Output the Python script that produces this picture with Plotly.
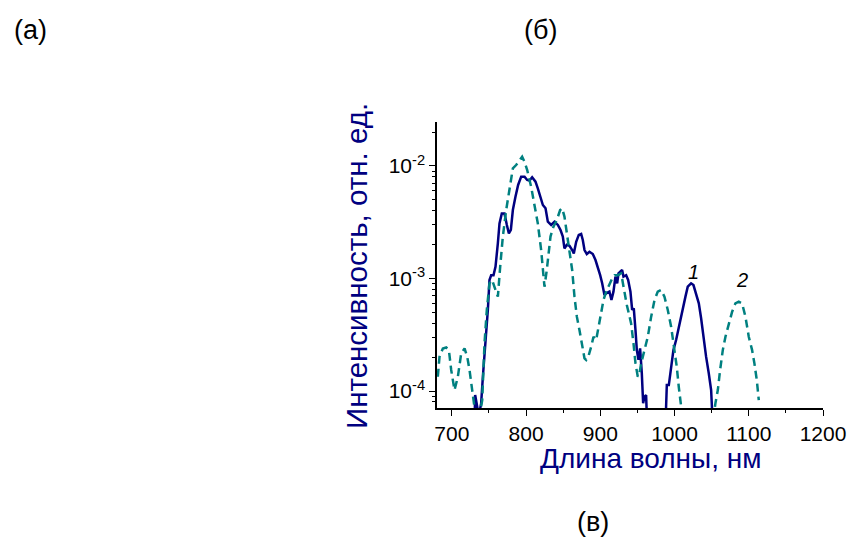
import plotly.graph_objects as go

# Curve 1 (solid)
wl1 = [730.5, 731.4, 736.4, 739.5, 741.8, 746.2, 748.5, 750.7, 753.0, 756.1, 758.8, 762.0, 764.2, 767.3,
       770.9, 774.1, 776.8, 779.5, 782.2, 785.7, 789.3, 793.4, 797.9, 801.5, 804.6, 808.2, 812.7, 815.8,
       819.0, 822.6, 826.2, 829.3, 833.8, 838.3, 842.8, 846.4, 849.5, 851.7, 854.9, 858.5, 862.1, 864.3,
       867.5, 871.0, 874.2, 876.4, 878.7, 881.8, 885.4, 889.9, 893.5, 896.6, 899.8, 902.5, 905.6, 907.9,
       912.3, 915.0, 917.7, 920.4, 922.7, 924.5, 926.7, 929.4, 931.2, 934.8, 937.5, 940.6, 942.9, 945.1,
       947.4, 949.2, 951.4, 953.6, 955.9, 957.7, 959.5, 961.7, 963.1,
       975.0,
       987.8, 989.6, 992.3, 995.4, 998.5, 1002.1, 1006.6, 1011.1, 1014.7, 1017.8, 1022.3, 1025.5, 1029.1,
       1032.7, 1035.8, 1039.0, 1042.5, 1046.1, 1049.3, 1051.5]
int1 = [5e-5, 9.2e-5, 6.0e-5, 7.8e-5, 1.34e-4, 3.04e-4, 5.25e-4, 9.7e-4, 1.07e-3, 1.07e-3, 1.27e-3, 2.06e-3,
        3.09e-3, 3.79e-3, 3.79e-3, 2.99e-3, 2.52e-3, 2.70e-3, 4.06e-3, 5.34e-3, 6.78e-3, 8.04e-3, 8.04e-3,
        7.51e-3, 7.41e-3, 7.93e-3, 7.26e-3, 6.33e-3, 5.34e-3, 4.50e-3, 4.21e-3, 3.20e-3, 2.99e-3, 3.20e-3,
        2.99e-3, 2.70e-3, 2.36e-3, 1.85e-3, 1.99e-3, 1.95e-3, 1.79e-3, 1.67e-3, 2.12e-3, 2.44e-3, 2.49e-3,
        2.20e-3, 1.79e-3, 1.65e-3, 1.73e-3, 1.65e-3, 1.46e-3, 1.27e-3, 1.07e-3, 9.06e-4, 7.13e-4, 7.38e-4,
        7.64e-4, 6.44e-4, 7.64e-4, 1.04e-3, 9.06e-4, 1.11e-3, 1.15e-3, 1.19e-3, 1.04e-3, 1.07e-3, 9.7e-4,
        7.64e-4, 5.25e-4, 5.43e-4, 3.48e-4, 2.31e-4, 1.89e-4, 2.39e-4, 1.44e-4, 7.8e-5, 8.9e-5, 9.2e-5, 5e-5,
        3e-5,
        5e-5, 1.13e-4, 1.13e-4, 1.64e-4, 2.31e-4, 2.84e-4, 3.99e-4, 5.62e-4, 6.90e-4, 8.45e-4, 9.06e-4,
        8.75e-4, 7.13e-4, 6.01e-4, 4.43e-4, 2.94e-4, 2.02e-4, 1.44e-4, 1.02e-4, 5e-5]

# Curve 2 (dashed)
wl2 = [681.1, 683.4, 687.9, 692.4, 696.0, 699.1, 703.6, 708.1, 712.6, 717.1, 720.7, 723.8, 727.4, 729.6,
       732.8, 737.3, 740.9, 744.0, 747.1, 750.7, 754.3, 758.8, 762.0, 765.1, 768.7, 773.2, 777.7, 782.2,
       786.6, 791.1, 794.7, 797.9, 801.5, 806.8, 811.3, 815.8, 820.3, 824.8, 827.9, 830.6, 832.9, 836.9,
       841.4, 845.9, 848.6, 851.7, 854.9, 858.5, 862.1, 865.2, 868.4, 871.9, 875.5, 878.7, 880.9, 884.5,
       887.7, 890.8, 894.4, 898.0, 901.1, 904.3, 907.9, 912.3, 915.9, 919.1, 923.6, 928.1, 930.3, 932.5,
       935.7, 938.4, 941.5, 944.7, 947.4, 950.5, 952.8, 955.0, 957.2, 960.8, 964.0, 968.5, 973.0, 977.4,
       981.9, 986.4, 990.9, 995.4, 999.9, 1003.0, 1005.7, 1008.9, 1011.1,
       1030.0,
       1052.0, 1055.1, 1058.3, 1061.4, 1065.0, 1068.6, 1073.1, 1077.6, 1082.0, 1086.5, 1091.0, 1095.5,
       1100.0, 1104.5, 1107.6, 1110.8, 1113.5]
int2 = [1.34e-4, 2.02e-4, 2.39e-4, 2.44e-4, 2.31e-4, 1.54e-4, 1.02e-4, 1.34e-4, 2.16e-4, 2.39e-4, 2.02e-4,
        1.54e-4, 1.02e-4, 7.8e-5, 5.5e-5, 6.0e-5, 8.3e-5, 2.65e-4, 5.25e-4, 9.06e-4, 9.7e-4, 7.91e-4,
        6.90e-4, 1.27e-3, 2.36e-3, 4.06e-3, 6.55e-3, 9.53e-3, 1.02e-2, 1.13e-2, 1.21e-2, 1.09e-2, 9.2e-3,
        6.55e-3, 4.66e-3, 3.09e-3, 1.79e-3, 8.45e-4, 1.19e-3, 1.79e-3, 2.36e-3, 2.89e-3, 3.31e-3, 4.06e-3,
        4.21e-3, 3.55e-3, 2.52e-3, 1.67e-3, 1.19e-3, 6.90e-4, 4.58e-4, 3.48e-4, 2.65e-4, 1.95e-4, 1.89e-4,
        2.09e-4, 2.48e-4, 3.04e-4, 2.84e-4, 3.73e-4, 4.9e-4, 6.44e-4, 7.64e-4, 9.06e-4, 1.0e-3, 1.07e-3,
        1.07e-3, 1.11e-3, 9.06e-4, 7.38e-4, 5.81e-4, 4.9e-4, 3.99e-4, 2.65e-4, 1.76e-4, 1.34e-4, 1.44e-4,
        1.76e-4, 2.02e-4, 2.48e-4, 3.04e-4, 4.58e-4, 6.44e-4, 7.64e-4, 7.91e-4, 6.90e-4, 5.25e-4, 3.73e-4,
        2.31e-4, 1.64e-4, 1.09e-4, 7.8e-5, 5.5e-5,
        3e-5,
        5.5e-5, 7.8e-5, 1.02e-4, 1.54e-4, 2.31e-4, 3.04e-4, 3.99e-4, 5.07e-4, 6.01e-4, 6.22e-4, 6.01e-4,
        4.58e-4, 3.04e-4, 2.31e-4, 1.76e-4, 1.25e-4, 8.3e-5]

x_ticks = [700, 800, 900, 1000, 1100, 1200]
x_minor = [750, 850, 950, 1050, 1150]
y_ticks = [1e-4, 1e-3, 1e-2]
y_tick_text = ["10<sup>-4</sup>", "10<sup>-3</sup>", "10<sup>-2</sup>"]
y_minor = [m * 10.0 ** e for e in (-5, -4, -3, -2) for m in range(2, 10)]

navy = "#000080"
teal = "#008080"
font = "Liberation Sans, Arial, sans-serif"

fig = go.Figure()
fig.add_trace(go.Scatter(x=wl1, y=int1, mode="lines",
                         line=dict(color=navy, width=2.5), showlegend=False))
fig.add_trace(go.Scatter(x=wl2, y=int2, mode="lines",
                         line=dict(color=teal, width=2.5, dash="8px,5px"), showlegend=False))

fig.update_layout(
    width=850, height=543,
    margin=dict(l=437, r=27, t=122, b=135, autoexpand=False),
    paper_bgcolor="white", plot_bgcolor="white",
    font=dict(family=font, color="black"),
    showlegend=False,
)
fig.update_xaxes(
    range=[680, 1200], showgrid=False, zeroline=False, automargin=False,
    showline=True, linecolor="black", linewidth=1.5,
    ticks="outside", ticklen=6, tickwidth=1.2, tickcolor="black",
    tickvals=x_ticks, ticktext=[str(v) for v in x_ticks],
    tickfont=dict(size=21, family=font, color="black"),
    minor=dict(tickvals=x_minor, ticks="outside", ticklen=3, tickwidth=1.2, tickcolor="black"),
)
fig.update_yaxes(
    type="log", range=[-4.151, -1.609], showgrid=False, zeroline=False, automargin=False,
    showline=True, linecolor="black", linewidth=1.5,
    ticks="outside", ticklen=6, tickwidth=1.2, tickcolor="black",
    tickvals=y_ticks, ticktext=y_tick_text,
    tickfont=dict(size=21, family=font, color="black"),
    minor=dict(tickvals=y_minor, ticks="outside", ticklen=3, tickwidth=1.2, tickcolor="black"),
)

annos = [
    dict(text="Длина волны, нм", x=650, y=458, size=28, color=navy, angle=0),
    dict(text="Интенсивность, отн. ед.", x=356, y=266, size=29.5, color=navy, angle=-90),
    dict(text="(а)", x=30, y=30, size=27, color="black", angle=0),
    dict(text="(б)", x=540, y=30, size=27, color="black", angle=0),
    dict(text="(в)", x=593, y=522, size=27, color="black", angle=0),
]
for a in annos:
    fig.add_annotation(text=a["text"], xref="paper", yref="paper",
                       x=(a["x"] - 437) / (823 - 437), y=(408 - a["y"]) / (408 - 122),
                       xanchor="center", yanchor="middle", showarrow=False, textangle=a["angle"],
                       font=dict(size=a["size"], color=a["color"], family=font))

fig.add_annotation(text="<i>1</i>", x=1025, y=-2.942, xref="x", yref="y", showarrow=False,
                   font=dict(size=20, color="black", family=font))
fig.add_annotation(text="<i>2</i>", x=1091, y=-3.013, xref="x", yref="y", showarrow=False,
                   font=dict(size=20, color="black", family=font))

fig.write_html("out.html")
